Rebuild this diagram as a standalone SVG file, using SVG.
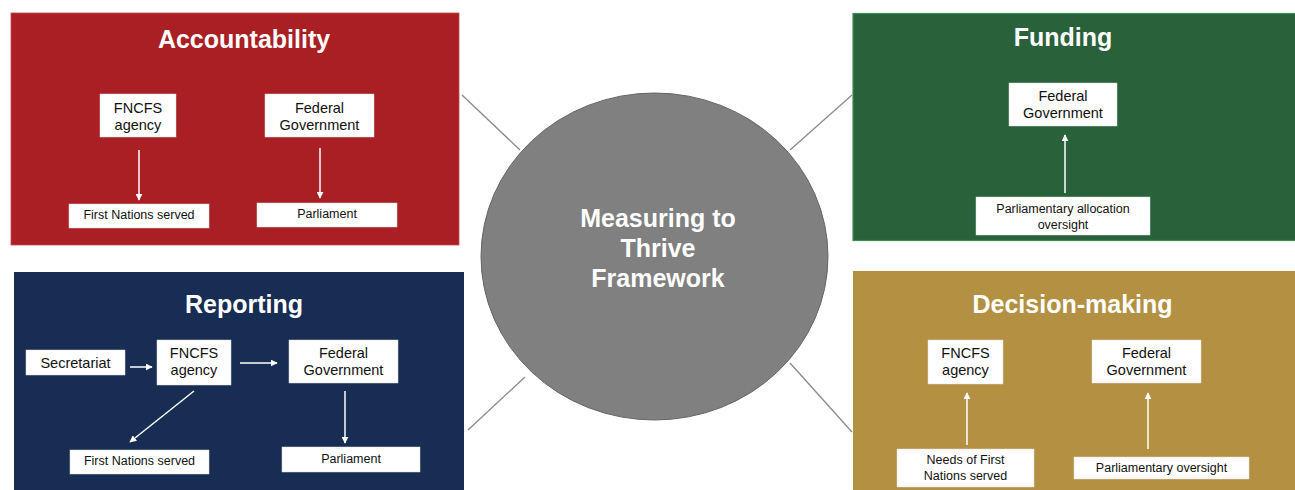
<svg xmlns="http://www.w3.org/2000/svg" width="1295" height="490" viewBox="0 0 1295 490">
<defs>
<marker id="ah" viewBox="0 0 10 10" refX="9" refY="5" markerWidth="7" markerHeight="7" markerUnits="userSpaceOnUse" orient="auto">
<path d="M0,0 L10,5 L0,10 z" fill="#ffffff"/>
</marker>
<style>
.title{font-family:"Liberation Sans",Arial,sans-serif;font-weight:bold;font-size:25px;fill:#ffffff;text-anchor:middle}
.lbl{font-family:"Liberation Sans",Arial,sans-serif;font-size:14.5px;fill:#111111;text-anchor:middle}
.sm{font-family:"Liberation Sans",Arial,sans-serif;font-size:12.5px;fill:#111111;text-anchor:middle}
.wb{fill:#ffffff;stroke:#dddddd;stroke-width:0.5}
.arr{stroke:#ffffff;stroke-width:1.5;fill:none;marker-end:url(#ah)}
.conn{stroke:#8a8a8a;stroke-width:1.3;fill:none}
</style>
</defs>
<rect width="1295" height="490" fill="#ffffff"/>

<g id="connectors">
<line class="conn" x1="462" y1="95" x2="520" y2="150"/>
<line class="conn" x1="790" y1="150" x2="852" y2="95"/>
<line class="conn" x1="525" y1="377" x2="468" y2="430"/>
<line class="conn" x1="790" y1="363" x2="852" y2="432"/>
</g>

<g id="accountability">
<rect x="11" y="13" width="448" height="232" fill="#A91F24" stroke="#c04a4e" stroke-width="0.8"/>
<text class="title" x="244" y="48">Accountability</text>
<g id="acc-fncfs"><rect class="wb" x="100" y="94" width="76" height="43"/>
<text class="lbl" x="138" y="113">FNCFS</text><text class="lbl" x="138" y="130">agency</text></g>
<g id="acc-fed"><rect class="wb" x="265" y="94" width="109" height="43"/>
<text class="lbl" x="319.5" y="113">Federal</text><text class="lbl" x="319.5" y="130">Government</text></g>
<g id="acc-fn"><rect class="wb" x="69" y="204" width="140" height="24"/>
<text class="sm" x="139" y="218.5">First Nations served</text></g>
<g id="acc-parl"><rect class="wb" x="257" y="203" width="140" height="24"/>
<text class="sm" x="327" y="217.5">Parliament</text></g>
<line class="arr" x1="139" y1="150" x2="139" y2="200"/>
<line class="arr" x1="320" y1="148" x2="320" y2="198"/>
</g>

<g id="reporting">
<rect x="14" y="272" width="450" height="220" fill="#172D53"/>
<text class="title" x="244" y="313">Reporting</text>
<g id="rep-sec"><rect class="wb" x="26" y="350" width="99" height="25"/>
<text class="lbl" x="75.5" y="368">Secretariat</text></g>
<g id="rep-fncfs"><rect class="wb" x="157" y="340" width="74" height="45"/>
<text class="lbl" x="194" y="358">FNCFS</text><text class="lbl" x="194" y="375">agency</text></g>
<g id="rep-fed"><rect class="wb" x="289" y="340" width="109" height="43"/>
<text class="lbl" x="343.5" y="358">Federal</text><text class="lbl" x="343.5" y="375">Government</text></g>
<g id="rep-fn"><rect class="wb" x="70" y="450" width="139" height="24"/>
<text class="sm" x="139.5" y="464.5">First Nations served</text></g>
<g id="rep-parl"><rect class="wb" x="282" y="447" width="138" height="25"/>
<text class="sm" x="351" y="462.5">Parliament</text></g>
<line class="arr" x1="130" y1="367" x2="152" y2="367"/>
<line class="arr" x1="240" y1="363" x2="277" y2="363"/>
<line class="arr" x1="194" y1="391" x2="130" y2="442"/>
<line class="arr" x1="345" y1="391" x2="345" y2="443"/>
</g>

<g id="funding">
<rect x="853" y="13.5" width="444" height="227" fill="#28613A" stroke="#3f8a55" stroke-width="1.2"/>
<text class="title" x="1063" y="46">Funding</text>
<g id="fun-fed"><rect class="wb" x="1009" y="83" width="108" height="43"/>
<text class="lbl" x="1063" y="101">Federal</text><text class="lbl" x="1063" y="118">Government</text></g>
<g id="fun-parl"><rect class="wb" x="976" y="197" width="174" height="38"/>
<text class="sm" x="1063" y="213">Parliamentary allocation</text><text class="sm" x="1063" y="228.5">oversight</text></g>
<line class="arr" x1="1065" y1="193" x2="1065" y2="135"/>
</g>

<g id="decision-making">
<rect x="853" y="271" width="444" height="221" fill="#B49142"/>
<text class="title" x="1072.5" y="313">Decision-making</text>
<g id="dec-fncfs"><rect class="wb" x="928" y="340" width="75" height="44"/>
<text class="lbl" x="965.5" y="358">FNCFS</text><text class="lbl" x="965.5" y="375">agency</text></g>
<g id="dec-fed"><rect class="wb" x="1092" y="340" width="109" height="43"/>
<text class="lbl" x="1146.5" y="358">Federal</text><text class="lbl" x="1146.5" y="375">Government</text></g>
<g id="dec-needs"><rect class="wb" x="897" y="449" width="137" height="38"/>
<text class="sm" x="965.5" y="464">Needs of First</text><text class="sm" x="965.5" y="480">Nations served</text></g>
<g id="dec-parl"><rect class="wb" x="1074" y="457" width="175" height="22"/>
<text class="sm" x="1161.5" y="471.5">Parliamentary oversight</text></g>
<line class="arr" x1="967" y1="445" x2="967" y2="393"/>
<line class="arr" x1="1148" y1="449" x2="1148" y2="393"/>
</g>

<g id="center">
<ellipse cx="654.5" cy="256.5" rx="173.5" ry="163.5" fill="#808080" stroke="#636363" stroke-width="1"/>
<text class="title" x="658" y="227">Measuring to</text>
<text class="title" x="658" y="257">Thrive</text>
<text class="title" x="658" y="287">Framework</text>
</g>
</svg>
